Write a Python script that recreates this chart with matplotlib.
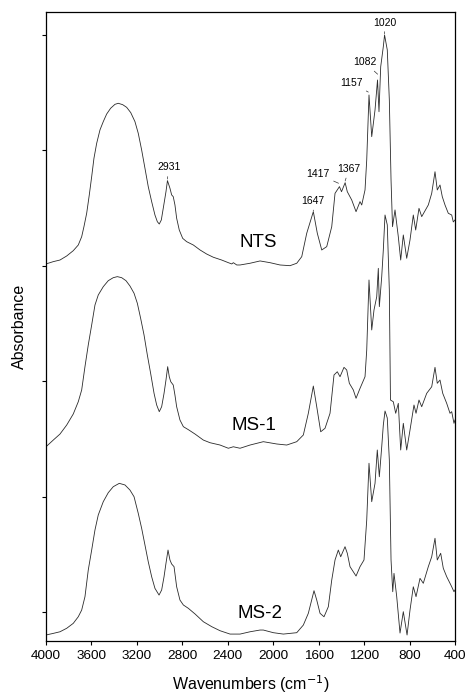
import numpy as np
import matplotlib
matplotlib.use("Agg")
import matplotlib.pyplot as plt

plt.rcParams["font.family"] = ["Liberation Sans", "DejaVu Sans"]

# ── Spectra (wavenumber cm-1, stacked absorbance) ──────────────────────────
nts_wn = [4000, 3936, 3877, 3818, 3760, 3716, 3686, 3666, 3642, 3619, 3598, 3578,
          3554, 3525, 3496, 3466, 3431, 3393, 3364, 3325, 3290, 3254, 3217, 3188,
          3158, 3129, 3100, 3070, 3041, 3020, 3003, 2985, 2968, 2944, 2931, 2909,
          2894, 2880, 2865, 2850, 2827, 2797, 2762, 2703, 2644, 2586, 2527, 2454,
          2395, 2365, 2351, 2321, 2292, 2204, 2116, 2028, 1940, 1852, 1793, 1749,
          1705, 1647, 1612, 1573, 1529, 1485, 1456, 1417, 1399, 1367, 1348, 1309,
          1271, 1236, 1221, 1192, 1177, 1157, 1133, 1104, 1082, 1069, 1054, 1031,
          1020, 996, 978, 963, 950, 928, 899, 878, 855, 825, 796, 767, 746, 717,
          693, 635, 605, 576, 556, 532, 512, 488, 459, 429, 415, 400]
nts_abs = [3.016, 3.036, 3.050, 3.085, 3.131, 3.180, 3.252, 3.339, 3.455, 3.614, 3.772, 3.931,
           4.061, 4.177, 4.249, 4.315, 4.365, 4.399, 4.408, 4.396, 4.373, 4.327, 4.249, 4.148,
           4.003, 3.845, 3.686, 3.556, 3.440, 3.382, 3.362, 3.397, 3.498, 3.642, 3.738, 3.672,
           3.614, 3.599, 3.527, 3.412, 3.310, 3.238, 3.209, 3.180, 3.137, 3.102, 3.074, 3.050,
           3.027, 3.016, 3.027, 3.007, 3.007, 3.022, 3.042, 3.027, 3.007, 3.001, 3.022, 3.079,
           3.282, 3.469, 3.282, 3.137, 3.166, 3.339, 3.628, 3.686, 3.642, 3.720, 3.642, 3.570,
           3.469, 3.556, 3.527, 3.657, 3.917, 4.480, 4.119, 4.350, 4.610, 4.335, 4.725, 4.899,
           5.000, 4.870, 4.437, 3.744, 3.339, 3.484, 3.252, 3.050, 3.267, 3.065, 3.224, 3.440,
           3.310, 3.498, 3.426, 3.527, 3.628, 3.815, 3.657, 3.700, 3.599, 3.527, 3.455, 3.440,
           3.380, 3.397]

ms1_wn = [4000, 3936, 3877, 3818, 3760, 3716, 3686, 3657, 3628, 3598, 3569, 3540,
          3496, 3452, 3408, 3372, 3334, 3296, 3261, 3225, 3196, 3167, 3137, 3108,
          3079, 3049, 3026, 3003, 2982, 2961, 2944, 2929, 2915, 2902, 2880, 2865,
          2850, 2821, 2791, 2747, 2688, 2615, 2556, 2468, 2395, 2351, 2292, 2204,
          2087, 1969, 1881, 1793, 1735, 1691, 1647, 1617, 1582, 1544, 1500, 1465,
          1436, 1412, 1377, 1353, 1330, 1295, 1271, 1236, 1192, 1177, 1157, 1133,
          1113, 1089, 1075, 1066, 1045, 1031, 1016, 996, 978, 968, 943, 922, 899,
          878, 855, 825, 796, 761, 743, 717, 693, 649, 605, 576, 556, 532, 508,
          473, 444, 429, 409, 400]
ms1_abs = [1.432, 1.490, 1.542, 1.620, 1.716, 1.822, 1.924, 2.126, 2.314, 2.487, 2.660, 2.747,
           2.819, 2.871, 2.897, 2.906, 2.897, 2.871, 2.825, 2.762, 2.675, 2.545, 2.400, 2.227,
           2.068, 1.895, 1.794, 1.736, 1.779, 1.895, 2.010, 2.126, 2.039, 1.996, 1.967, 1.880,
           1.779, 1.664, 1.606, 1.580, 1.542, 1.490, 1.467, 1.447, 1.419, 1.432, 1.419, 1.447,
           1.476, 1.456, 1.447, 1.476, 1.534, 1.722, 1.958, 1.779, 1.562, 1.592, 1.722, 2.054,
           2.082, 2.039, 2.120, 2.097, 1.982, 1.924, 1.852, 1.938, 2.039, 2.270, 2.877, 2.444,
           2.617, 2.732, 2.978, 2.646, 2.906, 3.137, 3.440, 3.354, 2.790, 1.837, 1.822, 1.722, 1.808,
           1.404, 1.635, 1.404, 1.577, 1.794, 1.722, 1.837, 1.779, 1.895, 1.952, 2.120, 1.982, 2.010, 1.895,
           1.808, 1.722, 1.736, 1.635, 1.664]

ms2_wn = [4000, 3936, 3877, 3818, 3760, 3716, 3686, 3657, 3628, 3598, 3569, 3540,
          3496, 3452, 3408, 3355, 3305, 3261, 3225, 3188, 3158, 3129, 3100, 3070,
          3041, 3005, 2982, 2961, 2944, 2926, 2909, 2894, 2873, 2850, 2821, 2791,
          2747, 2688, 2615, 2541, 2468, 2380, 2292, 2204, 2116, 2087, 1999, 1911,
          1793, 1735, 1691, 1641, 1617, 1588, 1553, 1515, 1485, 1456, 1427, 1406,
          1368, 1348, 1324, 1271, 1236, 1201, 1177, 1157, 1133, 1104, 1084, 1066,
          1045, 1031, 1016, 996, 978, 963, 948, 937, 913, 884, 855, 822, 796, 767,
          743, 708, 679, 635, 605, 576, 556, 526, 503, 473, 444, 429, 409, 400]
ms2_abs = [-0.199, -0.185, -0.171, -0.141, -0.098, -0.041, 0.017, 0.133, 0.364, 0.537, 0.711, 0.841,
           0.956, 1.034, 1.086, 1.115, 1.101, 1.057, 0.999, 0.855, 0.725, 0.581, 0.436, 0.306,
           0.205, 0.147, 0.191, 0.306, 0.422, 0.537, 0.451, 0.416, 0.393, 0.219, 0.104, 0.061,
           0.032, -0.017, -0.084, -0.127, -0.162, -0.191, -0.191, -0.171, -0.156, -0.156, -0.179, -0.191,
           -0.179, -0.113, -0.011, 0.185, 0.104, -0.011, -0.041, 0.046, 0.277, 0.451, 0.537, 0.479,
           0.566, 0.509, 0.393, 0.312, 0.393, 0.451, 0.797, 1.289, 0.956, 1.115, 1.404, 1.172,
           1.432, 1.620, 1.742, 1.681, 1.317, 0.451, 0.176, 0.335, 0.133, -0.182, 0.003, -0.199, 0.017, 0.219,
           0.133, 0.292, 0.249, 0.393, 0.479, 0.639, 0.451, 0.509, 0.379, 0.306, 0.249, 0.219, 0.176, 0.191]

# sample names and where they sit
sample_names = ["NTS", "MS-1", "MS-2"]
name_wn = [2134, 2174, 2112]
name_abs = [3.198, 1.620, -0.010]

# NTS band assignments: label, text position, leader end
band_labels = ["2931", "1647", "1417", "1367", "1157", "1082", "1020"]
band_text_wn = [2920, 1650, 1606, 1333, 1315, 1195, 1021]
band_text_abs = [3.852, 3.562, 3.795, 3.839, 4.588, 4.762, 5.108]
band_peak_wn = [2931, 1647, 1425, 1367, 1163, 1081, 1020]
band_peak_abs = [3.752, 3.475, 3.715, 3.735, 4.505, 4.66, 5.01]

xticks = [4000, 3600, 3200, 2800, 2400, 2000, 1600, 1200, 800, 400]

# ── Plot ────────────────────────────────────────────────────────────────────
fig = plt.figure(figsize=(4.66, 6.98), dpi=100)
ax = fig.add_axes([46 / 466, 57 / 698, 409 / 466, 629 / 698])

line_kw = dict(color="#2a2a2a", linewidth=0.6)
ax.plot(nts_wn, nts_abs, **line_kw)
ax.plot(ms1_wn, ms1_abs, **line_kw)
ax.plot(ms2_wn, ms2_abs, **line_kw)

for name, x, y in zip(sample_names, name_wn, name_abs):
    ax.text(x, y, name, fontsize=13.5, ha="center", va="center")

for lab, tx, ty, px, py in zip(band_labels, band_text_wn, band_text_abs,
                               band_peak_wn, band_peak_abs):
    ax.annotate(lab, xy=(px, py), xytext=(tx, ty), textcoords="data",
                fontsize=7.5, ha="center", va="center",
                arrowprops=dict(arrowstyle="-", color="#333333", lw=0.5,
                                shrinkA=1, shrinkB=0))

ax.set_xlim(4000, 400)
ax.set_ylim(-0.251, 5.199)
ax.set_xticks(xticks)
ax.set_xticklabels([str(t) for t in xticks], fontsize=9.7)
ax.set_yticks(range(6))
ax.set_yticklabels([])
ax.tick_params(direction="out", length=3, width=0.8, pad=3.5)
for sp in ax.spines.values():
    sp.set_linewidth(0.9)

ax.set_xlabel("Wavenumbers (cm$^{-1}$)", fontsize=11.5, labelpad=8)
ax.set_ylabel("Absorbance", fontsize=11.5, labelpad=7)

fig.savefig("out.png", dpi=100)
plt.close(fig)
